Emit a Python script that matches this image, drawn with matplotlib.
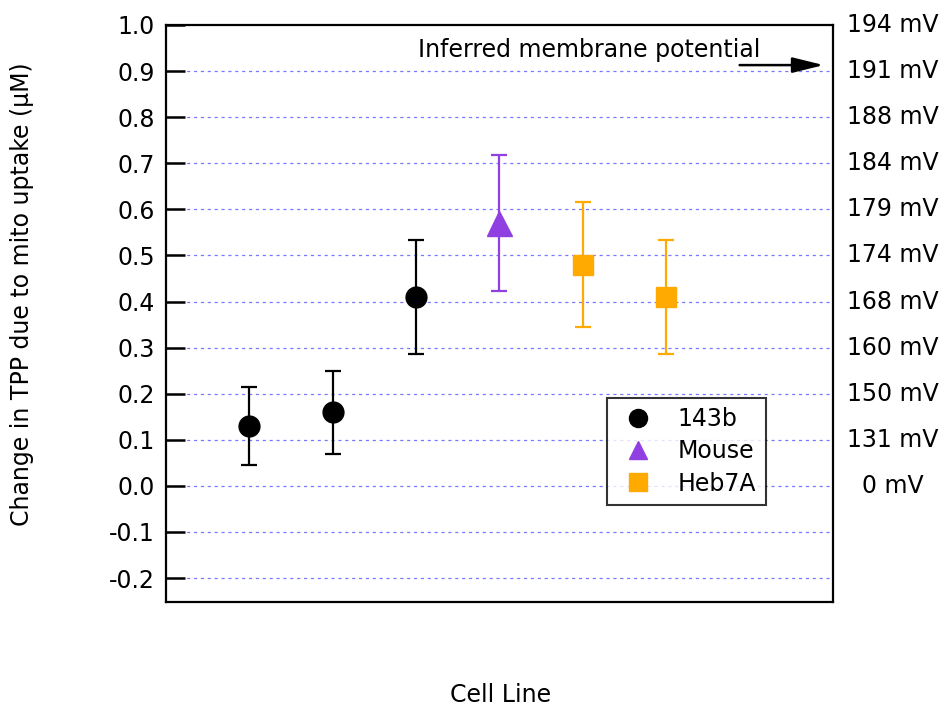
import matplotlib.pyplot as plt
import matplotlib.transforms as mtransforms
from matplotlib.lines import Line2D

plt.rcParams['font.family'] = ['DejaVu Sans']
FS = 17

# measurements, one point per sample, in plotting order
positions = [1, 2, 3, 4, 5, 6]
cell_lines = ['143b', '143b', '143b', 'Mouse', 'Heb7A', 'Heb7A']
tpp_change = [0.13, 0.16, 0.41, 0.57, 0.48, 0.41]
tpp_err = [0.085, 0.09, 0.124, 0.147, 0.135, 0.124]

# membrane potential inferred for each gridline on the left scale
mv_levels = [0.0, 0.1, 0.2, 0.3, 0.4, 0.5, 0.6, 0.7, 0.8, 0.9, 1.0]
mv_labels = ['0 mV', '131 mV', '150 mV', '160 mV', '168 mV', '174 mV',
             '179 mV', '184 mV', '188 mV', '191 mV', '194 mV']

styles = {
    '143b': dict(color='black', marker='o', ms=15),
    'Mouse': dict(color='#9040e0', marker='^', ms=18),
    'Heb7A': dict(color='#ffaa00', marker='s', ms=15),
}

fig = plt.figure(figsize=(9.45, 7.06), dpi=100)
ax = fig.add_axes([166/945, 1 - 602/706, 667/945, 577/706])

for x, name, y, e in zip(positions, cell_lines, tpp_change, tpp_err):
    st = styles[name]
    ax.errorbar(x, y, yerr=e, color=st['color'], marker=st['marker'],
                ms=st['ms'], mec=st['color'], elinewidth=1.6, capsize=6,
                capthick=1.6, zorder=3)

ax.set_xlim(0, 8)
ax.set_ylim(-0.252, 1.0)
ax.set_xticks([])
yt = [round(-0.2 + 0.1 * i, 1) for i in range(13)]
ax.set_yticks(yt)
ax.set_yticklabels(['%.1f' % v for v in yt])
ax.tick_params(axis='y', direction='in', length=14, width=1.8, labelsize=FS, pad=8)
for s in ax.spines.values():
    s.set_linewidth(1.6)

for v in yt[:-1]:
    ax.axhline(v, color='#7878ff', lw=0.9, ls=(0, (2.5, 3)), zorder=1)

fig.text(22/945, 1 - 294/706, 'Change in TPP due to mito uptake (μM)',
         rotation=90, ha='center', va='center', fontsize=FS)
fig.text(501/945, 1 - 695/706, 'Cell Line', ha='center', va='center', fontsize=FS)

trans = mtransforms.blended_transform_factory(ax.transAxes, ax.transData)
for v, lab in zip(mv_levels, mv_labels):
    ax.text(1.09, v, lab, transform=trans, ha='center', va='center', fontsize=FS)

fig.text(418/945, 1 - 50/706, 'Inferred membrane potential', fontsize=FS,
         ha='left', va='center')
ax.annotate('', xy=(0.986, 0.913), xytext=(0.86, 0.913), xycoords=trans,
            arrowprops=dict(arrowstyle='-|>,head_length=1.9,head_width=0.47',
                            color='black', lw=1.8, shrinkA=0, shrinkB=0))

handles = [Line2D([], [], ls='none', color=styles[k]['color'],
                  marker=styles[k]['marker'], ms=13) for k in ['143b', 'Mouse', 'Heb7A']]
leg = ax.legend(handles, ['143b', 'Mouse', 'Heb7A'], loc='lower left',
                bbox_to_anchor=(441/667, 97/577), fontsize=FS, frameon=True,
                fancybox=False, handletextpad=0.8, borderpad=0.4,
                labelspacing=0.35, handlelength=1.8, borderaxespad=0)
leg.get_frame().set_edgecolor('black')
leg.get_frame().set_linewidth(1.5)

fig.savefig('out.png', dpi=100)
